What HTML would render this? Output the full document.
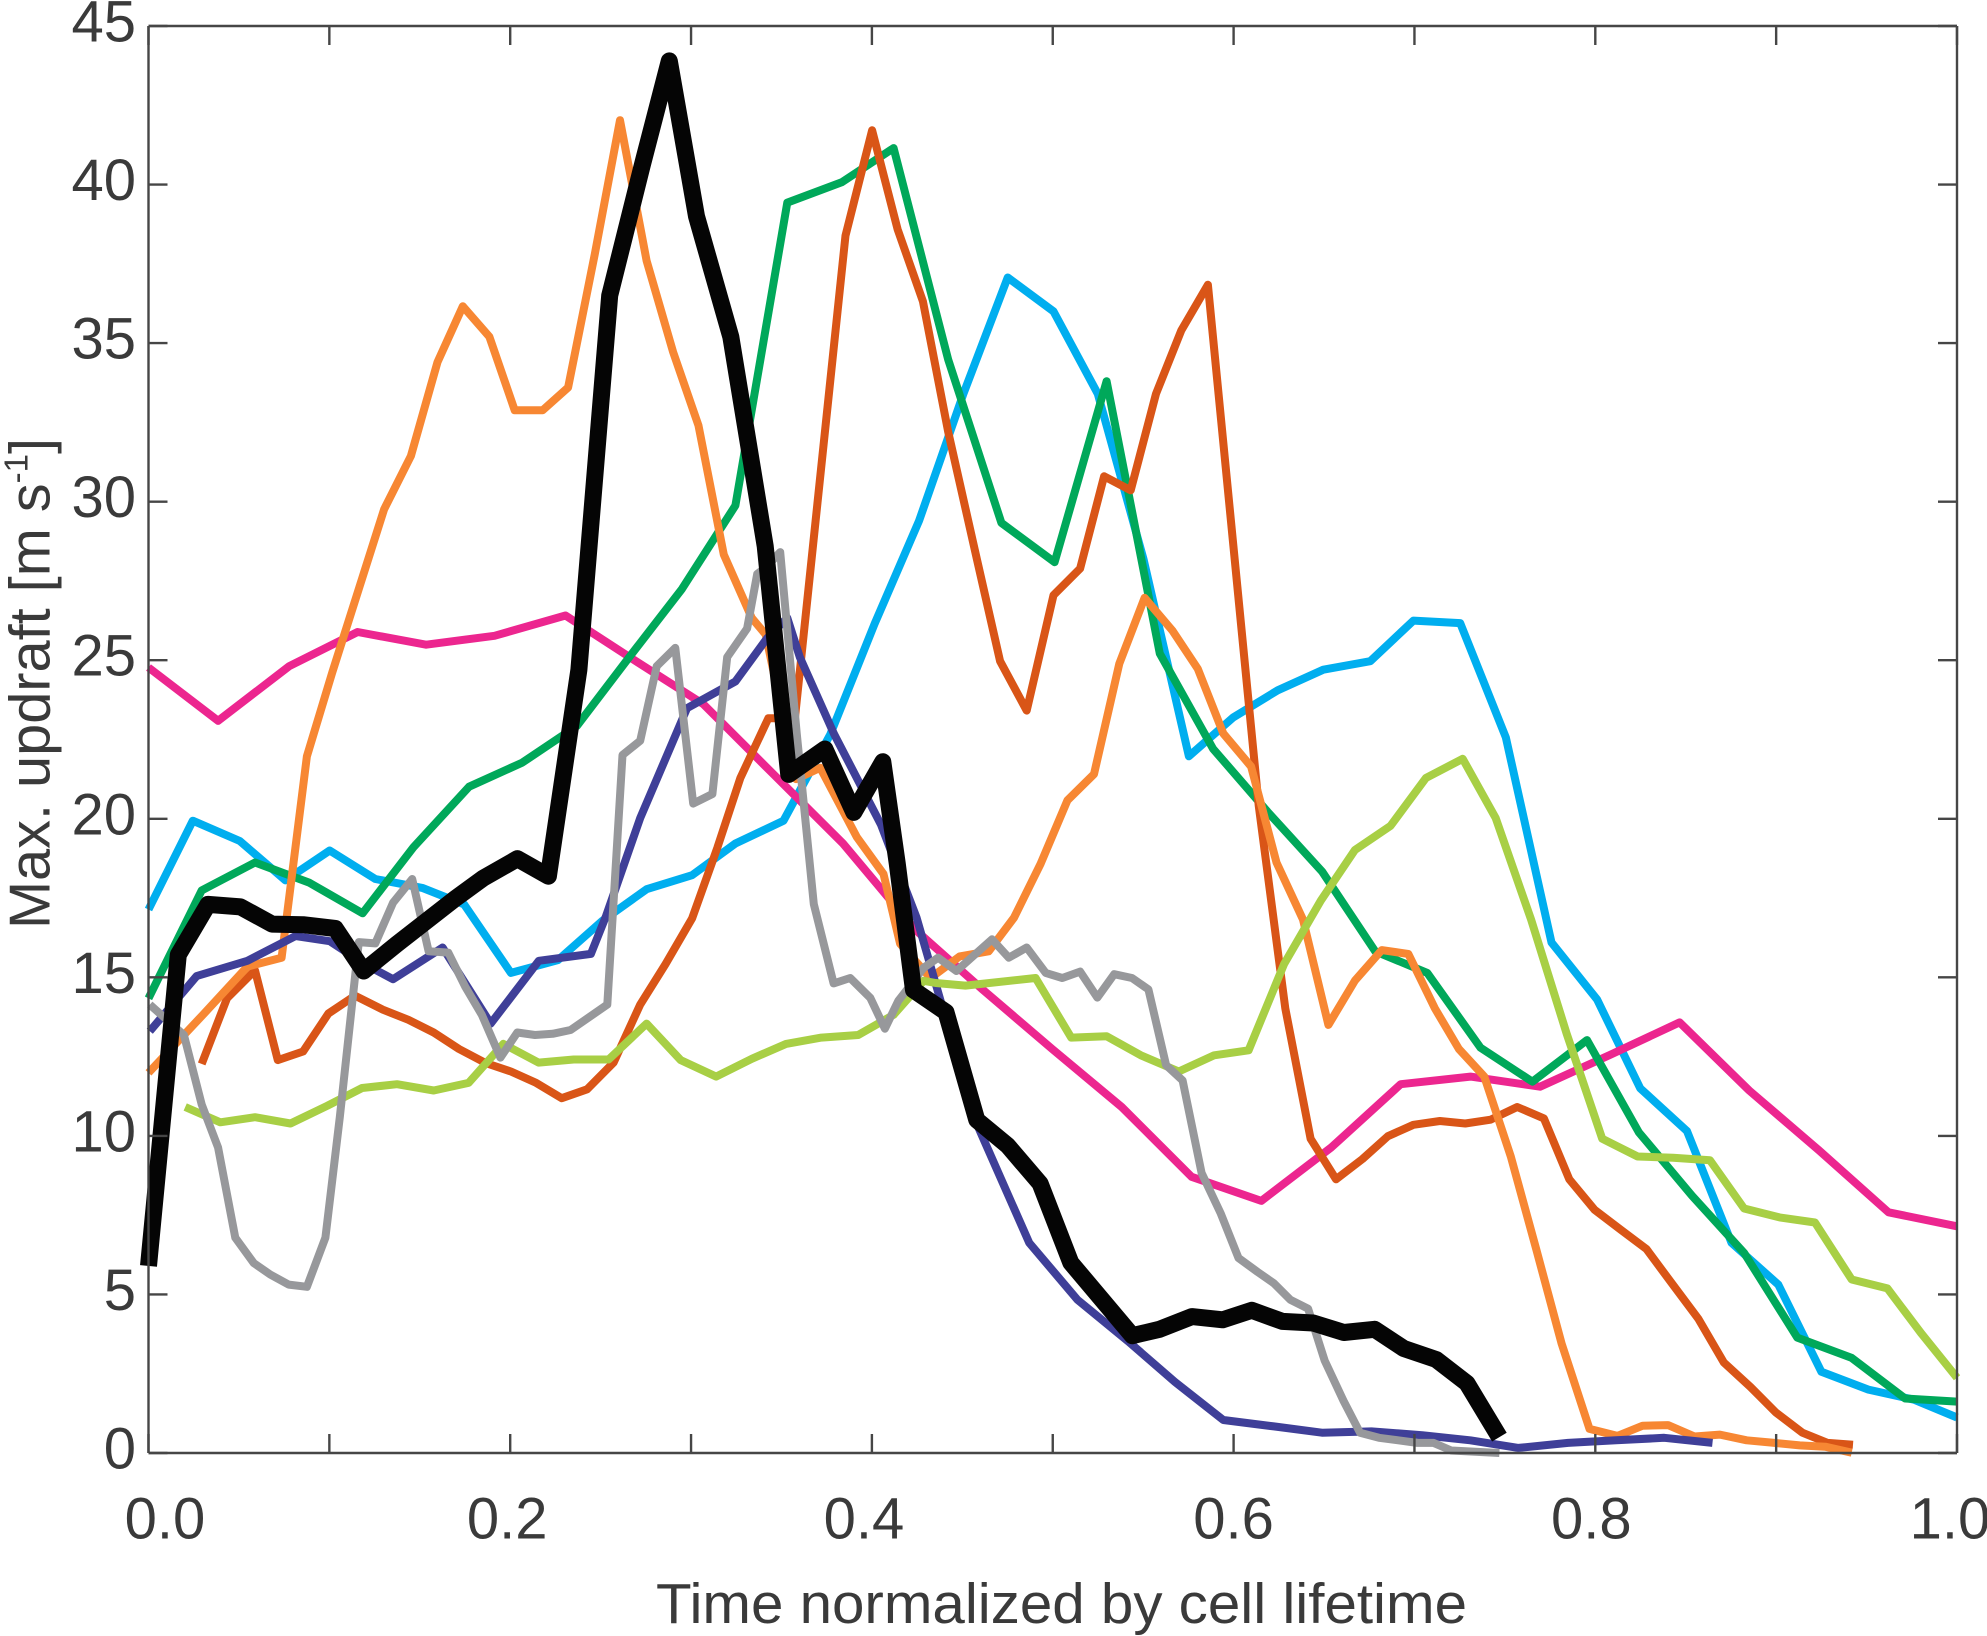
<!DOCTYPE html>
<html lang="en">
<head>
<meta charset="utf-8">
<title>Max. updraft vs normalized time</title>
<style>
html,body{margin:0;padding:0;background:#fff;width:1987px;height:1636px;overflow:hidden}
svg{display:block;font-family:"Liberation Sans",Arial,sans-serif}
text{fill:#3a3a3a}
</style>
</head>
<body>
<svg id="chart" xmlns="http://www.w3.org/2000/svg" width="1987" height="1636" viewBox="0 0 1987 1636">
  <g id="series-layer"></g>
  <g id="axis-layer"></g>
  <text id="x-title" x="1061.5" y="1623" text-anchor="middle" font-size="57" textLength="811" lengthAdjust="spacingAndGlyphs">Time normalized by cell lifetime</text>
  <text id="y-title" transform="translate(49.5,929) rotate(-90)" font-size="57.7">Max. updraft [m s<tspan font-size="33" dy="-22">-1</tspan><tspan dy="22">]</tspan></text>
</svg>
<script>
const xTicks = [0,0.1,0.2,0.3,0.4,0.5,0.6,0.7,0.8,0.9,1.0];
const xTickLabels = ["0.0","0.2","0.4","0.6","0.8","1.0"];
const xLabelValues = [0,0.2,0.4,0.6,0.8,1.0];
const xLabelNudge = [16.5,-3,-8,0,-4,-7];
const yTicks = [0,5,10,15,20,25,30,35,40,45];
const yTickLabels = ["0","5","10","15","20","25","30","35","40","45"];

const skyX = [0,.0245,.0505,.0757,.1002,.1254,.1514,.1745,.2004,.2263,.2509,.2754,.3006,.3245,.3511,.377,.4015,.4261,.4506,.4751,.5004,.5249,.5501,.5753,.5999,.6244,.6496,.6756,.6994,.7253,.7505,.7758,.801,.8248,.8507,.8753,.9012,.925,.951,.9762,1];
const skyY = [17.14,19.94,19.3,18.06,19.0,18.1,17.82,17.3,15.14,15.54,16.78,17.78,18.22,19.22,19.94,22.66,26.15,29.4,33.4,37.07,36.0,33.4,28.2,21.97,23.2,24.05,24.7,24.97,26.25,26.17,22.57,16.1,14.3,11.5,10.15,6.63,5.31,2.56,2.0,1.68,1.12];

const magentaX = [0,.0385,.0778,.1156,.1535,.1913,.2306,.2684,.3069,.3455,.384,.424,.4611,.4997,.5381,.5768,.6153,.6539,.6924,.731,.7695,.808,.8466,.8851,.9236,.9621,1];
const magentaY = [24.77,23.09,24.81,25.89,25.49,25.77,26.41,25.01,23.61,21.41,19.22,16.5,14.62,12.74,10.91,8.71,7.95,9.63,11.63,11.87,11.55,12.55,13.58,11.43,9.55,7.59,7.15];

const greenX = [0,.0294,.0589,.089,.1184,.1465,.1773,.2067,.2369,.2663,.295,.3245,.3532,.3833,.412,.4422,.4716,.501,.5298,.5592,.5886,.6188,.6489,.6783,.7071,.7365,.7652,.7954,.8241,.8535,.8823,.9117,.9418,.9713,1];
const greenY = [14.34,17.74,18.62,17.98,17.02,19.1,21.01,21.77,22.93,25.13,27.25,29.88,39.43,40.07,41.15,34.48,29.33,28.09,33.8,25.21,22.21,20.22,18.34,15.82,15.14,12.78,11.71,13.02,10.11,8.11,6.31,3.64,3.0,1.72,1.62];

const darkOrangeX = [.0294,.0434,.0589,.0715,.0855,.0995,.1142,.1296,.1437,.1577,.1717,.1864,.2004,.2144,.2285,.2425,.2572,.2719,.2859,.3006,.3146,.3273,.3427,.3574,.3854,.4001,.4142,.4282,.4422,.4583,.4709,.4856,.5004,.5151,.5284,.5431,.5571,.5711,.5858,.5999,.6139,.6286,.6426,.6566,.6713,.6853,.6994,.7141,.7281,.7421,.7568,.7716,.7856,.7996,.8143,.8283,.8423,.857,.8711,.8858,.8998,.9145,.9285,.9425];
const darkOrangeY = [12.27,14.34,15.22,12.39,12.66,13.86,14.42,13.98,13.66,13.26,12.74,12.3,12.03,11.67,11.19,11.47,12.31,14.14,15.42,16.86,19.1,21.29,23.17,23.17,38.39,41.71,38.59,36.32,32.2,28.13,24.97,23.41,27.05,27.89,30.8,30.36,33.4,35.4,36.84,28.6,20.42,14.02,9.91,8.63,9.27,9.99,10.35,10.47,10.39,10.51,10.91,10.55,8.63,7.67,7.03,6.43,5.35,4.23,2.85,2.08,1.28,.64,.32,.26];

const lightOrangeX = [0,.0301,.0547,.0736,.0876,.1016,.1163,.1303,.1451,.1598,.1738,.1885,.2025,.2179,.232,.2467,.2607,.2754,.2901,.3041,.3181,.3336,.3413,.3581,.3714,.3861,.3917,.4064,.4156,.4324,.4485,.4646,.4786,.4933,.5081,.5228,.5368,.5508,.5662,.5802,.5943,.6097,.6237,.6384,.6524,.6671,.6819,.6966,.7113,.7246,.7386,.7533,.7673,.7814,.7968,.8122,.8262,.8402,.8549,.8689,.8837,.8991,.9131,.9271,.9418];
const lightOrangeY = [11.99,13.82,15.34,15.62,21.97,24.61,27.25,29.76,31.44,34.4,36.16,35.2,32.88,32.88,33.6,37.79,42.03,37.6,34.72,32.4,28.33,26.33,25.81,21.25,21.61,20.02,19.42,18.26,16.06,14.98,15.66,15.82,16.88,18.58,20.58,21.41,24.89,26.97,25.93,24.73,22.69,21.65,18.62,16.82,13.5,14.9,15.86,15.74,14.02,12.74,11.87,9.35,6.43,3.44,.76,.54,.86,.88,.52,.58,.4,.32,.24,.2,.01];

const navyX = [.0007,.0266,.0547,.0813,.1002,.12,.1352,.1626,.1892,.2158,.2446,.253,.2719,.2978,.3245,.342,.3532,.3602,.3791,.405,.4247,.438,.4576,.487,.5137,.5417,.5676,.5943,.6223,.6489,.6762,.7043,.7309,.7575,.7849,.8115,.8381,.8648];
const navyY = [13.3,15.04,15.52,16.3,16.14,15.4,14.94,15.94,13.54,15.52,15.74,16.94,20.02,23.49,24.33,25.69,26.33,25.09,22.67,19.82,16.88,14.26,10.43,6.63,4.83,3.52,2.24,1.04,.84,.64,.68,.56,.4,.16,.32,.4,.48,.32];

const limeX = [.0203,.0397,.0589,.0785,.0988,.1181,.1374,.1577,.177,.1962,.2157,.2351,.2544,.2754,.2943,.3139,.3336,.3525,.3721,.3924,.412,.4286,.4352,.4517,.4905,.5102,.5298,.5487,.5697,.5893,.6083,.6279,.6482,.6671,.6868,.7064,.7267,.7449,.7645,.7842,.8038,.8234,.843,.8634,.8823,.9019,.9215,.9418,.9615,.9804,1];
const limeY = [10.91,10.43,10.59,10.39,10.95,11.51,11.63,11.43,11.67,12.9,12.31,12.41,12.41,13.54,12.39,11.87,12.43,12.9,13.1,13.18,13.82,14.89,14.82,14.74,14.98,13.1,13.14,12.54,12.03,12.54,12.7,15.42,17.42,19.02,19.78,21.29,21.89,20.02,16.82,13.22,9.91,9.35,9.31,9.23,7.71,7.43,7.27,5.47,5.19,3.76,2.37];

const grayX = [.0007,.0196,.0294,.0385,.048,.0582,.0673,.0775,.0876,.0978,.1058,.1163,.1254,.1352,.1458,.1549,.1658,.1752,.1843,.1946,.2039,.2137,.2235,.2334,.2537,.2621,.2719,.281,.2913,.3012,.3118,.32,.331,.3366,.3413,.3493,.3585,.3679,.3788,.388,.3991,.4072,.4146,.4195,.4286,.4366,.4467,.4664,.4757,.4856,.4961,.5053,.5151,.5247,.534,.5438,.5529,.5627,.5718,.5823,.5929,.6027,.6132,.6223,.6314,.6412,.6503,.6608,.6699,.6804,.691,.7015,.7106,.7204,.747];
const grayY = [14.14,13.18,10.99,9.63,6.79,5.99,5.63,5.31,5.24,6.79,10.59,16.11,16.07,17.35,18.1,15.82,15.78,14.7,13.82,12.47,13.26,13.18,13.22,13.34,14.14,22.01,22.46,24.81,25.39,20.48,20.78,25.1,26.0,27.72,27.92,28.41,22.67,17.31,14.81,14.98,14.35,13.38,14.26,14.62,15.3,15.62,15.2,16.2,15.62,15.94,15.14,14.98,15.18,14.36,15.1,14.98,14.62,12.23,11.75,8.83,7.55,6.15,5.71,5.35,4.83,4.55,2.92,1.64,.64,.48,.4,.32,.32,.08,0];

const blackX = [0,.0165,.0329,.0509,.0683,.0855,.1033,.119,.1374,.17,.1851,.204,.2211,.238,.255,.273,.288,.303,.322,.341,.354,.374,.39,.406,.414,.423,.441,.458,.475,.493,.51,.544,.559,.577,.594,.61,.627,.644,.661,.678,.694,.712,.729,.747];
const blackY = [5.9,15.71,17.3,17.22,16.68,16.66,16.54,15.2,16.05,17.5,18.13,18.74,18.19,24.7,36.5,40.6,43.9,39,35.2,28.6,21.4,22.2,20.2,21.8,18.6,14.6,13.9,10.5,9.7,8.5,6.0,3.7,3.9,4.3,4.2,4.5,4.15,4.1,3.8,3.9,3.3,2.95,2.2,.5];

const SVGNS = "http://www.w3.org/2000/svg";
const plot = {left:148.5, right:1957, top:26, bottom:1453};
const xMax = 1, yMax = 45;
function xScale(v){ return plot.left + (plot.right - plot.left) * v / xMax; }
function yScale(v){ return plot.bottom - (plot.bottom - plot.top) * v / yMax; }

function drawSeries(xs, ys, color, width, name){
  const line = document.createElementNS(SVGNS, "polyline");
  line.setAttribute("points", xs.map((x,i)=>xScale(x).toFixed(1)+","+yScale(ys[i]).toFixed(1)).join(" "));
  line.setAttribute("fill", "none");
  line.setAttribute("stroke", color);
  line.setAttribute("stroke-width", width);
  line.setAttribute("stroke-linejoin", "round");
  line.setAttribute("stroke-linecap", "butt");
  
  
  document.getElementById("series-layer").appendChild(line);
}
function axisLine(x1,y1,x2,y2,w){
  const l = document.createElementNS(SVGNS, "line");
  l.setAttribute("x1", x1); l.setAttribute("y1", y1);
  l.setAttribute("x2", x2); l.setAttribute("y2", y2);
  l.setAttribute("stroke", "#464646");
  l.setAttribute("stroke-width", w);
  
  
  document.getElementById("axis-layer").appendChild(l);
}
function label(txt,x,y,anchor,name){
  const t = document.createElementNS(SVGNS, "text");
  t.setAttribute("x", x); t.setAttribute("y", y);
  t.setAttribute("text-anchor", anchor);
  t.setAttribute("font-size", "58");
  
  
  t.textContent = txt;
  document.getElementById("axis-layer").appendChild(t);
}

drawSeries(skyX, skyY, "#00AEEF", 8, "series-sky-blue");
drawSeries(magentaX, magentaY, "#EC268F", 8, "series-magenta");
drawSeries(greenX, greenY, "#00A85A", 8, "series-green");
drawSeries(darkOrangeX, darkOrangeY, "#D95517", 8, "series-dark-orange");
drawSeries(lightOrangeX, lightOrangeY, "#F78733", 8, "series-light-orange");
drawSeries(navyX, navyY, "#3F3F98", 8, "series-navy");
drawSeries(limeX, limeY, "#A8CF45", 8, "series-lime");
drawSeries(grayX, grayY, "#97989B", 8, "series-gray");
drawSeries(blackX, blackY, "#050505", 17, "series-mean-black");

const tickLen = 19;
const frameW = 2.4;
axisLine(plot.left, plot.top, plot.right, plot.top, frameW);
axisLine(plot.left, plot.bottom, plot.right, plot.bottom, frameW);
axisLine(plot.left, plot.top, plot.left, plot.bottom, frameW);
axisLine(plot.right, plot.top, plot.right, plot.bottom, frameW);
xTicks.forEach(v=>{
  const x = xScale(v);
  axisLine(x, plot.bottom, x, plot.bottom - tickLen, frameW);
  axisLine(x, plot.top, x, plot.top + tickLen, frameW);
});
yTicks.forEach(v=>{
  const y = yScale(v);
  axisLine(plot.left, y, plot.left + tickLen, y, frameW);
  axisLine(plot.right, y, plot.right - tickLen, y, frameW);
});
xLabelValues.forEach((v,i)=>{
  label(xTickLabels[i], xScale(v) + xLabelNudge[i], 1538.5, "middle", "x-tick-label");
});
yTicks.forEach((v,i)=>{
  label(yTickLabels[i], 136, yScale(v) + 15.5, "end", "y-tick-label");
});
</script>
</body>
</html>
